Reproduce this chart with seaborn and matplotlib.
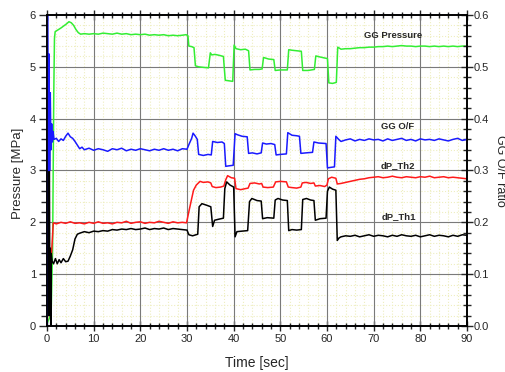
import matplotlib
matplotlib.use('Agg')
import matplotlib.pyplot as plt
from matplotlib.ticker import MultipleLocator, FixedLocator, FormatStrFormatter
import pandas as pd
import seaborn as sns

# GG Pressure [MPa]
gg_p_t = [0, 0.5, 0.9, 1.2, 1.45, 1.6, 1.75, 2.3, 3.0, 3.6,
          4.2, 4.7, 5.2, 5.7, 6.2, 6.7, 7.2, 8, 9, 10,
          11, 12, 13, 14, 15, 16, 17, 18, 19, 20,
          21, 22, 23, 24, 25, 26, 27, 28, 29, 29.8,
          30.2, 30.4, 31.0, 31.5, 31.8, 32.5, 33.5, 34.6, 35.0, 35.3,
          36, 37, 37.8, 38.2, 39, 39.8, 40.1, 40.5, 41.5, 42.5,
          43.2, 43.5, 44.5, 45.5, 46.1, 46.4, 47.5, 48.6, 48.9, 50,
          51.5, 51.8, 52.5, 53.5, 54.5, 54.8, 56, 57.3, 57.6, 58.5,
          59.5, 60.1, 60.4, 61.2, 62.0, 62.3, 63, 64, 65, 66,
          67, 68, 69, 70, 71, 72, 73, 74, 75, 76,
          77, 78, 79, 80, 81, 82, 83, 84, 85, 86,
          87, 88, 89, 90]
gg_p = [0.05, 0.15, 0.3, 1.5, 4.5, 5.55, 5.68, 5.71, 5.75, 5.79,
        5.83, 5.87, 5.85, 5.80, 5.72, 5.66, 5.63, 5.64, 5.63, 5.64,
        5.63, 5.65, 5.64, 5.63, 5.65, 5.63, 5.64, 5.62, 5.63, 5.62,
        5.63, 5.61, 5.62, 5.61, 5.62, 5.60, 5.61, 5.60, 5.61, 5.62,
        5.60, 5.40, 5.39, 5.37, 5.02, 5.00, 4.99, 4.98, 5.27, 5.23,
        5.24, 5.22, 5.20, 4.74, 4.73, 4.72, 5.42, 5.35, 5.33, 5.34,
        5.31, 4.94, 4.95, 4.95, 4.96, 5.18, 5.15, 5.14, 4.93, 4.94,
        4.94, 5.33, 5.32, 5.31, 5.30, 4.93, 4.93, 4.95, 5.21, 5.19,
        5.17, 5.16, 4.69, 4.68, 4.70, 5.38, 5.34, 5.35, 5.35, 5.36,
        5.37, 5.37, 5.38, 5.38, 5.39, 5.39, 5.40, 5.39, 5.40, 5.41,
        5.40, 5.40, 5.39, 5.40, 5.40, 5.39, 5.40, 5.39, 5.40, 5.39,
        5.40, 5.39, 5.40, 5.40]

# GG O/F ratio (right axis)
of_t = [0, 0.1, 0.3, 0.4, 0.55, 0.7, 0.85, 1.0, 1.15, 1.3,
        1.5, 2.0, 2.5, 3.0, 3.5, 4.0, 4.5, 5.0, 5.5, 6.0,
        6.5, 7.0, 7.5, 8, 9, 10, 11, 12, 13, 14,
        15, 16, 17, 18, 19, 20, 21, 22, 23, 24,
        25, 26, 27, 28, 29, 30, 30.5, 31.0, 31.3, 31.8,
        32.2, 32.5, 33.5, 34.5, 35.2, 35.5, 36.5, 37.5, 38.0, 38.3,
        39.0, 39.9, 40.3, 40.8, 41.8, 42.9, 43.2, 44.0, 45.0, 45.9,
        46.2, 47.0, 48.0, 48.8, 49.1, 50.0, 51.3, 51.6, 52.5, 53.5,
        54.1, 54.4, 55.5, 56.9, 57.2, 58.2, 59.8, 60.1, 60.8, 61.6,
        61.9, 62.5, 63, 64, 65, 66, 67, 68, 69, 70,
        71, 72, 73, 74, 75, 76, 77, 78, 79, 80,
        81, 82, 83, 84, 85, 86, 87, 88, 89, 90]
of_ratio = [0.0, 0.65, 0.30, 0.525, 0.30, 0.45, 0.34, 0.39, 0.355, 0.375,
            0.36, 0.362, 0.356, 0.361, 0.358, 0.366, 0.372, 0.365, 0.362, 0.356,
            0.349, 0.342, 0.345, 0.340, 0.343, 0.339, 0.342, 0.340, 0.337, 0.342,
            0.340, 0.343, 0.338, 0.341, 0.339, 0.342, 0.340, 0.338, 0.341, 0.339,
            0.342, 0.339, 0.341, 0.338, 0.342, 0.341, 0.352, 0.362, 0.372, 0.366,
            0.360, 0.331, 0.329, 0.331, 0.330, 0.356, 0.354, 0.355, 0.352, 0.308,
            0.309, 0.310, 0.371, 0.369, 0.366, 0.365, 0.333, 0.334, 0.332, 0.334,
            0.353, 0.351, 0.352, 0.350, 0.330, 0.331, 0.332, 0.373, 0.368, 0.367,
            0.366, 0.333, 0.334, 0.335, 0.355, 0.353, 0.352, 0.305, 0.306, 0.307,
            0.366, 0.360, 0.356, 0.359, 0.361, 0.357, 0.360, 0.358, 0.361, 0.359,
            0.360, 0.357, 0.361, 0.358, 0.360, 0.362, 0.358, 0.360, 0.357, 0.361,
            0.359, 0.360, 0.358, 0.361, 0.359, 0.357, 0.360, 0.362, 0.358, 0.360]

# dP_Th2 [MPa]
th2_t = ([0, 0.3, 0.6, 0.9, 1.1, 1.35, 2, 3, 4, 5]
         + list(range(6, 30))
         + [29.9, 30.5, 31.4, 32.0, 32.8, 33.5, 34.5, 35.1, 35.4, 36.2,
            37.2, 37.9, 38.3, 38.7, 39.5, 40.2, 40.5, 41.5, 42.5, 43.1,
            43.5, 44.5, 45.5, 46.0, 46.3, 47.3, 48.5, 49.0, 50.0, 51.3,
            51.7, 52.5, 53.5, 54.4, 54.7, 55.5, 56.5, 57.2, 57.5, 58.5,
            59.5, 60.0, 60.3, 61.0, 61.9, 62.2, 63, 64, 65, 66,
            67, 68, 69, 70]
         + list(range(71, 91)))
th2 = [0.0, 0.5, 1.2, 1.3, 1.6, 1.99, 1.97, 2.0, 1.98, 2.01,
       1.98, 1.99, 1.97, 2.0, 1.98, 2.01, 1.98, 1.99, 1.97, 2.0,
       1.99, 2.02, 1.98, 2.0, 2.01, 1.98, 2.0, 1.99, 2.02, 2.0,
       1.98, 2.01, 1.99, 2.0,
       1.99, 2.25, 2.62, 2.72, 2.79, 2.77, 2.78, 2.76, 2.69, 2.67,
       2.68, 2.70, 2.82, 2.90, 2.86, 2.85, 2.65, 2.63, 2.65, 2.66,
       2.75, 2.76, 2.74, 2.75, 2.68, 2.67, 2.68, 2.78, 2.79, 2.78,
       2.68, 2.67, 2.66, 2.68, 2.76, 2.77, 2.75, 2.76, 2.70, 2.71,
       2.69, 2.72, 2.84, 2.87, 2.85, 2.74, 2.75, 2.77, 2.79, 2.81,
       2.83, 2.84, 2.86, 2.87,
       2.88, 2.86, 2.87, 2.89, 2.87, 2.86, 2.88, 2.87, 2.86, 2.88,
       2.87, 2.89, 2.86, 2.87, 2.88, 2.86, 2.87, 2.86, 2.85, 2.84]

# dP_Th1 [MPa]
th1_t = ([0, 0.1, 0.2, 0.3, 0.4, 0.5, 0.6, 0.7, 0.8, 0.9,
          1.1, 1.4, 1.8, 2.2, 2.6, 3.0, 3.5, 4.0, 4.5, 5.0,
          5.5, 6.0, 6.5]
         + list(range(7, 30))
         + [30.0, 30.4, 31.2, 32.3, 32.6, 33.2, 34.2, 35.1, 35.5, 35.9,
            36.8, 37.8, 38.1, 38.5, 39.2, 40.0, 40.3, 40.7, 41.8, 43.0,
            43.4, 43.9, 45.0, 45.9, 46.2, 47.2, 48.6, 48.9, 49.5, 50.5,
            51.5, 51.8, 52.5, 53.5, 54.5, 54.8, 55.6, 56.5, 57.2, 57.5,
            58.5, 59.8, 60.1, 60.5, 61.2, 61.9, 62.2, 62.6, 63, 64]
         + list(range(65, 91)))
th1 = [0.0, 4.3, 0.3, 4.0, 0.2, 3.5, 0.5, 1.5, 0.0, 1.4,
       1.25, 1.2, 1.3, 1.2, 1.28, 1.22, 1.30, 1.24, 1.25, 1.35,
       1.47, 1.68, 1.77,
       1.79, 1.82, 1.80, 1.83, 1.82, 1.84, 1.83, 1.86, 1.85, 1.87,
       1.86, 1.88, 1.86, 1.87, 1.89, 1.86, 1.88, 1.87, 1.89, 1.86,
       1.88, 1.87, 1.86,
       1.85, 1.76, 1.74, 1.77, 2.30, 2.36, 2.33, 2.30, 1.92, 2.04,
       2.06, 2.08, 2.65, 2.78, 2.72, 2.68, 1.72, 1.82, 1.83, 1.84,
       2.40, 2.46, 2.42, 2.41, 2.07, 2.09, 2.08, 2.43, 2.46, 2.43,
       2.42, 1.84, 1.86, 1.85, 1.86, 2.44, 2.46, 2.43, 2.42, 2.04,
       2.07, 2.08, 2.60, 2.68, 2.64, 2.62, 1.65, 1.70, 1.72, 1.74,
       1.73, 1.75, 1.72, 1.74, 1.76, 1.73, 1.75, 1.74, 1.72, 1.75,
       1.73, 1.76, 1.74, 1.73, 1.75, 1.72, 1.74, 1.76, 1.73, 1.75,
       1.74, 1.72, 1.75, 1.73, 1.76, 1.75]

labels = ['GG Pressure', 'GG O/F', 'dP_Th2', 'dP_Th1']
label_pos = [(74.1, 5.61), (75.2, 3.84), (75.2, 3.09), (75.4, 2.11)]

sns.set_style('white')
plt.rcParams['font.family'] = ['Liberation Sans', 'DejaVu Sans']

fig = plt.figure(figsize=(5.06, 3.72), dpi=100)
ax = fig.add_axes([0.0929, 0.1237, 0.83, 0.836])
ax2 = ax.twinx()

lw = 1.1
sns.lineplot(data=pd.DataFrame({'t': gg_p_t, 'v': gg_p}), x='t', y='v', ax=ax,
             color='#33ee33', lw=lw, estimator=None, sort=False)
sns.lineplot(data=pd.DataFrame({'t': th2_t, 'v': th2}), x='t', y='v', ax=ax,
             color='#ff1a1a', lw=lw, estimator=None, sort=False)
sns.lineplot(data=pd.DataFrame({'t': th1_t, 'v': th1}), x='t', y='v', ax=ax,
             color='black', lw=lw, estimator=None, sort=False)
sns.lineplot(data=pd.DataFrame({'t': of_t, 'v': of_ratio}), x='t', y='v', ax=ax2,
             color='#1a1aff', lw=lw, estimator=None, sort=False)

ax.set_xlim(0, 90)
ax.set_ylim(0, 6)
ax2.set_ylim(0, 0.6)

ax.xaxis.set_major_locator(MultipleLocator(10))
ax.xaxis.set_minor_locator(FixedLocator([v for v in range(0, 91, 2) if v % 10]))
ax.yaxis.set_major_locator(MultipleLocator(1))
ax.yaxis.set_minor_locator(FixedLocator([i / 5 for i in range(31) if i % 5]))
ax2.yaxis.set_major_locator(MultipleLocator(0.1))
ax2.yaxis.set_minor_locator(FixedLocator([i / 50 for i in range(31) if i % 5]))
ax2.yaxis.set_major_formatter(FormatStrFormatter('%.1f'))

# minor dotted grid from the axes, major grid drawn above it (still under the lines)
ax.set_axisbelow(True)
ax.grid(which='minor', color='#eeeec0', lw=0.8, ls=':')
for xv in range(10, 90, 10):
    ax.axvline(xv, color='#7a7a7a', lw=0.8, zorder=0.8)
for yv in range(1, 6):
    ax.axhline(yv, color='#7a7a7a', lw=0.8, zorder=0.8)

ax.tick_params(axis='x', which='both', direction='inout', top=True, bottom=True,
               labelsize=8, pad=2)
ax.tick_params(axis='x', which='major', length=7, width=1)
ax.tick_params(axis='x', which='minor', length=5, width=1)
ax.tick_params(axis='y', which='major', direction='out', left=True, length=6, width=1,
               labelsize=8, pad=2)
ax.tick_params(axis='y', which='minor', direction='out', left=True, length=4, width=1)
ax2.tick_params(axis='y', which='major', direction='inout', right=True, length=8, width=1,
                labelsize=8, pad=1)
ax2.tick_params(axis='y', which='minor', direction='inout', right=True, length=6, width=1)

for a in (ax, ax2):
    for s in a.spines.values():
        s.set_color('black')
        s.set_linewidth(1.2)

ax.set_xlabel('Time [sec]', fontsize=10)
ax.xaxis.set_label_coords(0.5, -0.095)
ax.set_ylabel('Pressure [MPa]', fontsize=9.5)
ax.yaxis.set_label_coords(-0.055, 0.49)
ax2.set_ylabel('GG O/F ratio', fontsize=9, rotation=270, va='bottom')
ax2.yaxis.set_label_coords(1.064, 0.5)

for text, (x, y) in zip(labels, label_pos):
    ax.text(x, y, text, fontsize=6.8, fontweight='bold', ha='center', va='center')

fig.savefig('out.png', dpi=100)
